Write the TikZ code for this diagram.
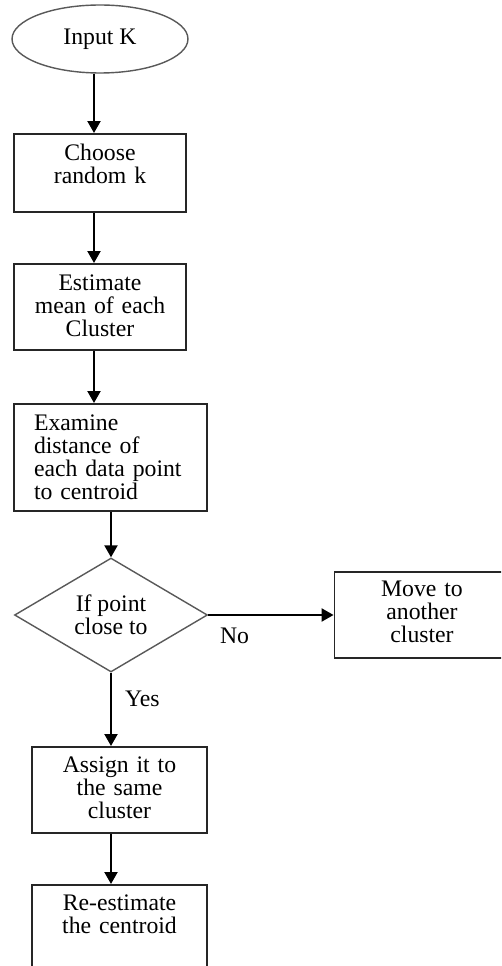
\documentclass[tikz,border=0pt]{standalone}
\usepackage{fontspec}
\setmainfont{Liberation Serif}
\usetikzlibrary{arrows.meta,positioning}
\usetikzlibrary{shapes.geometric}

\begin{document}
\begin{tikzpicture}
	[x=0.02cm,y=-0.02cm,font=\fontsize{13.5}{13}\selectfont,
	box/.style={draw=black!85,line width=1.1pt,inner sep=0pt,align=center,anchor=north,text height=0.54cm},
	arr/.style={line width=1.25pt,-{Triangle[width=0.26cm,length=0.24cm]}},
	lbl/.style={inner sep=0pt}]
	\useasboundingbox (0,0) rectangle (501,966);
	\clip (0,0) rectangle (501,966);
	
	\node[draw=black!65,line width=0.8pt,shape=ellipse,minimum width=3.52cm,minimum height=1.36cm,inner sep=0pt] (1) at (100,39) {Input K};
	\node[box,text width=3.44cm,text depth=1.02cm] (2) at (100,133) {Choose\\random k};
	\node[box,text width=3.44cm,text depth=1.18cm] (3) at (100,263) {Estimate\\mean of each\\Cluster};
	\node[box,align=left,inner xsep=0.4cm,text width=3.06cm,text depth=1.6cm] (4) at (110.5,403) {Examine\\distance of\\each data point\\to centroid};
	\node[draw=black!65,line width=0.8pt,shape=diamond,minimum width=3.86cm,minimum height=2.28cm,inner sep=0pt,align=center] (5) at (111,615) {If point\\close to};
	\node[box,text width=3.5cm,text height=0.5cm,text depth=1.22cm] (6) at (422,571) {Move to\\another\\cluster};
	\node[box,text width=3.5cm,text height=0.52cm,text depth=1.2cm] (7) at (119.5,746) {Assign it to\\the same\\cluster};
	\node[box,text width=3.5cm,text height=0.52cm,text depth=2.4cm] (8) at (119.5,884) {Re-estimate\\the centroid};
	
	\coordinate (s) at (94,0);
	
	\draw[arr] (1.south -| s) to (2.north -| s);
	\draw[arr] (2.south -| s) to (3.north -| s);
	\draw[arr] (3.south -| s) to (4.north -| s);
	\draw[arr] (4.south -| 5) to (5.north);
	\draw[arr] (5.east) to node [lbl,below=0.24cm,pos=0.21] {No} (5.east -| 6.west);
	\draw[arr] (5.south) to node [lbl,right=0.26cm,pos=0.36] {Yes} (7.north -| 5);
	\draw[arr] (7.south -| 5) to (8.north -| 5);
	\end{tikzpicture}
\end{document}
